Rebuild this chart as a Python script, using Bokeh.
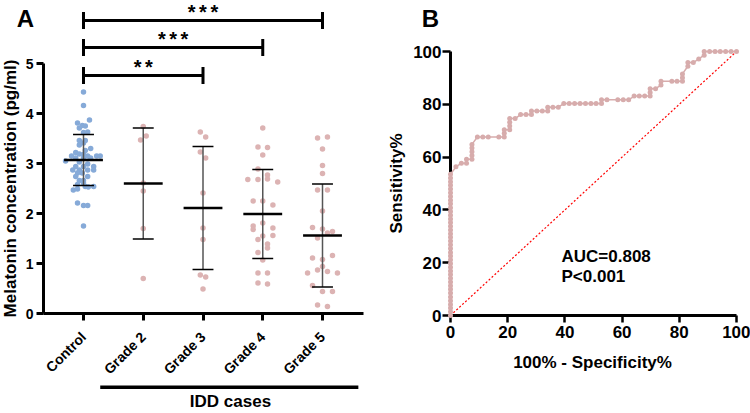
from math import pi
from bokeh.plotting import figure
from bokeh.layouts import row
from bokeh.models import FixedTicker, Range1d
from bokeh.core.properties import value
from bokeh.embed import file_html
from bokeh.resources import INLINE

FONT = "Liberation Sans"

# ---------------- Panel A data ----------------
categories = ["Control", "Grade 2", "Grade 3", "Grade 4", "Grade 5"]

control_vals = [4.43, 4.16, 3.87, 3.81, 3.76, 3.75, 3.71, 3.63, 3.62, 3.46, 3.46, 3.41, 3.37,
                3.30, 3.26, 3.22, 3.19, 3.18, 3.15, 3.15, 3.15, 3.15, 3.11, 3.11, 3.11, 3.05,
                3.03, 2.99, 2.94, 2.94, 2.94, 2.87, 2.87, 2.87, 2.87, 2.81, 2.81, 2.74, 2.74,
                2.66, 2.66, 2.61, 2.58, 2.54, 2.54, 2.53, 2.49, 2.47, 2.21, 2.16, 2.16, 1.75]
control_jit = [0, 0, 0.10, -0.10, -0.02, 0.03, -0.07, 0.07, 0, -0.07, 0.03, 0, -0.07,
               0.12, 0.03, -0.13, -0.07, 0, -0.20, 0.07, 0.22, 0.28, -0.13, 0, 0.12, -0.30,
               -0.07, 0.07, -0.13, 0, 0.17, -0.18, -0.07, 0.07, 0.17, -0.10, -0.02, -0.13, 0.07,
               -0.07, 0, 0, -0.10, 0.03, 0.17, 0.08, -0.10, -0.17, -0.10, 0, 0.07, 0]

grade2_vals = [3.74, 3.55, 3.47, 2.61, 2.45, 1.70, 0.70]
grade2_jit = [0, 0.05, -0.045, 0, 0, 0, 0]

grade3_vals = [3.63, 3.53, 3.23, 3.11, 2.41, 1.71, 1.48, 0.77, 0.73, 0.49]
grade3_jit = [-0.045, 0.045, -0.045, 0.045, 0, 0, 0, -0.045, 0.045, 0]

grade4_vals = [3.71, 3.33, 3.32, 3.17, 2.89, 2.77, 2.69, 2.68, 2.68, 2.63, 2.25, 2.25, 2.17,
               1.81, 1.75, 1.68, 1.71, 1.56, 1.55, 1.48, 1.39, 1.31, 1.22, 1.07, 0.81, 0.81,
               0.61, 0.59]
grade4_jit = [0, -0.08, 0.08, 0, -0.08, 0.08, 0.08, -0.25, -0.08, 0.25, -0.16, 0, 0.17,
              0, -0.16, -0.16, 0.17, 0.17, 0, -0.08, 0.08, 0.08, -0.08, 0, -0.08, 0.08,
              -0.08, 0.08]

grade5_vals = [3.51, 3.53, 3.29, 2.96, 2.80, 2.47, 2.47, 2.05, 1.72, 1.69, 1.64, 1.61, 1.51,
               1.16, 1.11, 1.08, 0.94, 0.87, 0.84, 0.81, 0.81, 0.56, 0.44, 0.44, 0.17, 0.14]
grade5_jit = [-0.083, 0.083, 0, 0, 0, 0.083, -0.083, 0, -0.167, 0, 0.167, 0.083, -0.083,
              0.167, -0.167, 0, 0, -0.083, 0.083, -0.25, 0.25, -0.167, 0, 0.167, -0.083, 0.083]

group_means = [3.07, 2.60, 2.11, 1.99, 1.56]
group_sds = [0.51, 1.11, 1.23, 0.89, 1.03]

sig_from = [1, 1, 1]
sig_to = [3, 4, 5]
sig_levels = [4.76, 5.32, 5.86]
sig_stars = [2, 3, 3]

a_yticks = [0, 1, 2, 3, 4, 5]
a_ylabel = "Melatonin concentration (pg/ml)"
group_label = "IDD cases"
group_span = [2, 5]

# ---------------- Panel B data ----------------
roc_fpr = [0, 0, 0, 0, 0, 0, 0, 0, 0, 0, 0, 0, 0, 0, 0, 0, 0, 0, 0, 0,
           0, 0, 0, 0, 0, 0, 0, 0, 0, 0, 0, 0, 0, 0, 0, 0, 0, 0, 0,
           1.9, 3.8, 5.6, 5.6, 7.5, 7.5, 7.5, 7.5, 7.5, 9.4, 11.3, 13.2, 16.9, 18.8, 18.8, 18.8,
           20.7, 20.7, 20.7, 20.7, 22.6, 24.5, 26.4, 28.3, 28.3, 30.2, 32.1, 34.0, 34.0, 35.8,
           37.7, 39.6, 41.5, 43.4, 45.3, 47.2, 49.1, 50.9, 52.8, 52.8, 54.7, 58.5, 60.4, 62.3,
           64.2, 66.0, 67.9, 69.8, 69.8, 69.8, 71.7, 73.6, 73.6, 77.4, 79.2, 81.1, 81.1, 81.1,
           83.0, 83.0, 84.9, 86.8, 88.7, 88.7, 90.6, 92.5, 94.3, 96.2, 98.1, 100]
roc_tpr = [0, 1.4, 2.8, 4.2, 5.6, 7.0, 8.5, 9.9, 11.3, 12.7, 14.1, 15.5, 16.9, 18.3, 19.7,
           21.1, 22.5, 23.9, 25.4, 26.8, 28.2, 29.6, 31.0, 32.4, 33.8, 35.2, 36.6, 38.0, 39.4,
           40.8, 42.3, 43.7, 45.1, 46.5, 47.9, 49.3, 50.7, 52.1, 53.5,
           56.3, 57.7, 57.7, 59.2, 59.2, 60.6, 62.0, 63.4, 64.8, 67.6, 67.6, 67.6, 67.6, 67.6,
           69.0, 70.4, 70.4, 71.8, 73.2, 74.6, 74.6, 76.1, 76.1, 76.1, 77.5, 77.5, 77.5, 77.5,
           78.9, 78.9, 78.9, 80.3, 80.3, 80.3, 80.3, 80.3, 80.3, 80.3, 80.3, 81.7, 81.7, 81.7,
           81.7, 81.7, 83.1, 83.1, 83.1, 83.1, 84.5, 85.9, 85.9, 87.3, 88.7, 88.7, 88.7, 88.7,
           90.1, 91.5, 94.4, 95.8, 95.8, 97.2, 98.6, 100, 100, 100, 100, 100, 100, 100]
diag_x = [0, 100]
diag_y = [0, 100]
b_ticks = [0, 20, 40, 60, 80, 100]
b_xlabel = "100% - Specificity%"
b_ylabel = "Sensitivity%"
auc_text = "AUC=0.808"
p_text = "P<0.001"

assert len(control_vals) == len(control_jit)
assert len(grade4_vals) == len(grade4_jit)
assert len(grade5_vals) == len(grade5_jit)
assert len(roc_fpr) == len(roc_tpr)

BLUE = "#86aad8"
PINK = "#dcb3b3"
ROC = "#d7acac"
H = 413


def style_axis(ax, size, tick_w=3):
    ax.axis_line_width = 3
    ax.axis_line_color = "black"
    ax.major_tick_line_width = tick_w
    ax.major_tick_line_color = "black"
    ax.major_tick_out = 7
    ax.major_tick_in = 0
    ax.minor_tick_line_color = None
    ax.major_label_text_font = FONT
    ax.major_label_text_font_style = "bold"
    ax.major_label_text_font_size = size
    ax.major_label_text_color = "black"


def add_text(p, x, y, txt, size, angle=0.0, align="center", baseline="middle"):
    p.text(x=[x], y=[y], text=[txt], angle=angle, text_align=align,
           text_baseline=baseline, text_font=value(FONT), text_font_style="bold",
           text_font_size=size, text_color="black")


# ---------------- Panel A ----------------
# frame == whole canvas; page-pixel geometry of the reference
AW = 378
A_CAT1_PX, A_CAT_STEP = 83.0, 59.75     # x pixel of first category, pixels per category
A_ZERO_PX, A_UNIT = 313.0, 50.0         # y pixel of value 0, pixels per unit


def a_x(px):
    return 1 + (px - A_CAT1_PX) / A_CAT_STEP


def a_y(py):
    return (A_ZERO_PX - py) / A_UNIT


pa = figure(width=AW, height=H, x_range=Range1d(a_x(0), a_x(AW)),
            y_range=Range1d(a_y(H), a_y(0)), output_backend="svg",
            toolbar_location=None, title=None, min_border=0, min_border_left=0,
            min_border_right=0, min_border_top=0, min_border_bottom=0)
pa.grid.visible = False
pa.outline_line_color = None

y_left = a_x(43)
x_right = a_x(363)
style_axis(pa.xaxis[0], "14px")
style_axis(pa.yaxis[0], "14px")
pa.yaxis.fixed_location = y_left
pa.xaxis.fixed_location = 0
pa.yaxis.ticker = FixedTicker(ticks=a_yticks)
pa.yaxis.bounds = (0, 5)
pa.yaxis.major_label_standoff = 3
cat_pos = [i + 1 for i in range(len(categories))]
pa.xaxis.ticker = FixedTicker(ticks=cat_pos)
pa.xaxis.bounds = (y_left, x_right)
pa.xaxis.major_label_overrides = {p: c for p, c in zip(cat_pos, categories)}
pa.xaxis.major_label_orientation = pi / 4
pa.xaxis.major_label_standoff = 14

groups = [(control_vals, control_jit, BLUE), (grade2_vals, grade2_jit, PINK),
          (grade3_vals, grade3_jit, PINK), (grade4_vals, grade4_jit, PINK),
          (grade5_vals, grade5_jit, PINK)]
for i, (vals, jit, col) in enumerate(groups):
    pa.scatter([cat_pos[i] + j for j in jit], vals, size=5.5, fill_color=col,
               line_color=None)

lo = [m - s for m, s in zip(group_means, group_sds)]
hi = [m + s for m, s in zip(group_means, group_sds)]
pa.segment(x0=cat_pos, y0=lo, x1=cat_pos, y1=hi, line_color="#555555", line_width=1.5)
CAP = 0.175
MW = 0.325
pa.segment(x0=[c - CAP for c in cat_pos], y0=hi, x1=[c + CAP for c in cat_pos], y1=hi,
           line_color="black", line_width=1.5)
pa.segment(x0=[c - CAP for c in cat_pos], y0=lo, x1=[c + CAP for c in cat_pos], y1=lo,
           line_color="black", line_width=1.5)
pa.segment(x0=[c - MW for c in cat_pos], y0=group_means, x1=[c + MW for c in cat_pos],
           y1=group_means, line_color="black", line_width=2.5)

# significance brackets
TK = 0.17
pa.segment(x0=sig_from, y0=sig_levels, x1=sig_to, y1=sig_levels, line_color="black",
           line_width=3)
pa.segment(x0=sig_from, y0=[l - TK for l in sig_levels], x1=sig_from,
           y1=[l + TK for l in sig_levels], line_color="black", line_width=3)
pa.segment(x0=sig_to, y0=[l - TK for l in sig_levels], x1=sig_to,
           y1=[l + TK for l in sig_levels], line_color="black", line_width=3)
PITCH = 0.19
STAR_UP = 19.5 / A_UNIT          # top of the star text box above its bracket
sx, sy = [], []
for f, t, l, n in zip(sig_from, sig_to, sig_levels, sig_stars):
    mid = (f + t) / 2
    for k in range(n):
        sx.append(mid + (k - (n - 1) / 2) * PITCH)
        sy.append(l + STAR_UP)
pa.text(x=sx, y=sy, text=["*"] * len(sx), text_align="center", text_baseline="top",
        text_font=value(FONT), text_font_style="bold", text_font_size="20px",
        text_color="black")

add_text(pa, a_x(25), a_y(17.5), "A", "24px")
add_text(pa, a_x(10), a_y(188), a_ylabel, "17px", angle=pi / 2)
pa.segment(x0=[group_span[0] - 0.72], y0=[a_y(386.7)], x1=[group_span[1] + 0.6],
           y1=[a_y(386.7)], line_color="black", line_width=3.5)
add_text(pa, a_x(230), a_y(401), group_label, "17px")

# ---------------- Panel B ----------------
BW = 750 - AW
B_ORIGIN = AW                      # page x of this canvas
B_ZERO_X, B_UNIT_X = 450.0, 2.86   # page x of 0 %, pixels per %
B_ZERO_Y, B_UNIT_Y = 315.0, 2.64   # page y of 0 %, pixels per %


def b_x(px):
    return (px - B_ZERO_X) / B_UNIT_X


def b_y(py):
    return (B_ZERO_Y - py) / B_UNIT_Y


pb = figure(width=BW, height=H, x_range=Range1d(b_x(B_ORIGIN), b_x(B_ORIGIN + BW)),
            y_range=Range1d(b_y(H), b_y(0)), output_backend="svg",
            toolbar_location=None, title=None, min_border=0, min_border_left=0,
            min_border_right=0, min_border_top=0, min_border_bottom=0)
pb.grid.visible = False
pb.outline_line_color = None
style_axis(pb.xaxis[0], "17px", 2.5)
style_axis(pb.yaxis[0], "17px", 2.5)
pb.xaxis.fixed_location = 0
pb.yaxis.fixed_location = 0
pb.xaxis.ticker = FixedTicker(ticks=b_ticks)
pb.yaxis.ticker = FixedTicker(ticks=b_ticks)
pb.xaxis.bounds = (0, 100)
pb.yaxis.bounds = (0, 100)
pb.yaxis.major_tick_out = 8
pb.xaxis.major_label_standoff = 3
pb.yaxis.major_label_standoff = 1

pb.line(diag_x, diag_y, line_color="red", line_dash="2 2", line_width=1.2)
pb.line(roc_fpr, roc_tpr, line_color=ROC, line_width=1.5, level="overlay")
pb.scatter(roc_fpr, roc_tpr, size=5, fill_color=ROC, line_color=None, level="overlay")

add_text(pb, b_x(561), b_y(255.5), auc_text, "17px", align="left")
add_text(pb, b_x(561), b_y(275.5), p_text, "17px", align="left")
add_text(pb, b_x(430), b_y(18), "B", "24px")
add_text(pb, b_x(395.5), b_y(183), b_ylabel, "17px", angle=pi / 2)
add_text(pb, b_x(592), b_y(362), b_xlabel, "17px")

layout = row(pa, pb)
open("out.html", "w").write(file_html(layout, INLINE))
